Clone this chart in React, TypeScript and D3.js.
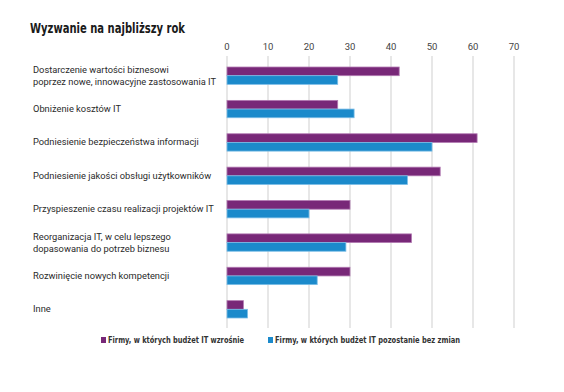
import React, { useEffect, useRef } from 'react';
import * as d3 from 'd3';

const categories = [
  ['Dostarczenie wartości biznesowi', 'poprzez nowe, innowacyjne zastosowania IT'],
  ['Obniżenie kosztów IT'],
  ['Podniesienie bezpieczeństwa informacji'],
  ['Podniesienie jakości obsługi użytkowników'],
  ['Przyspieszenie czasu realizacji projektów IT'],
  ['Reorganizacja IT, w celu lepszego', 'dopasowania do potrzeb biznesu'],
  ['Rozwinięcie nowych kompetencji'],
  ['Inne'],
];
const budgetUp = [42, 27, 61, 52, 30, 45, 30, 4];
const budgetSame = [27, 31, 50, 44, 20, 29, 22, 5];
const seriesNames = [
  'Firmy, w których budżet IT wzrośnie',
  'Firmy, w których budżet IT pozostanie bez zmian',
];
const ticks = [0, 10, 20, 30, 40, 50, 60, 70];

const colors = ['#782878', '#1b8acb'];
const strokes = ['#b27ab2', '#7bbde6'];
const condensed = '"DejaVu Sans Condensed", "DejaVu Sans", sans-serif';

const App = () => {
  const svgRef = useRef<SVGSVGElement>(null);

  useEffect(() => {
    const svg = d3.select(svgRef.current);
    svg.selectAll('*').remove();

    const x = d3.scaleLinear().domain([0, 70]).range([227, 514]);
    const y = d3.scaleBand<number>()
      .domain(d3.range(categories.length))
      .range([59, 326])
      .paddingInner(0.48)
      .paddingOuter(0.24);
    const sub = d3.scaleBand<number>().domain([0, 1]).range([0, y.bandwidth()]);

    svg.append('text')
      .attr('x', 30)
      .attr('y', 33)
      .attr('font-family', condensed)
      .attr('font-weight', 'bold')
      .attr('font-size', 14)
      .attr('textLength', 155)
      .attr('lengthAdjust', 'spacingAndGlyphs')
      .attr('fill', '#1a1a1a')
      .text('Wyzwanie na najbliższy rok');

    // grid + tick labels
    const grid = svg.append('g');
    grid.selectAll('line')
      .data(ticks)
      .join('line')
      .attr('x1', d => x(d))
      .attr('x2', d => x(d))
      .attr('y1', 56)
      .attr('y2', 328)
      .attr('stroke', '#cfcfcf')
      .attr('stroke-width', 1);
    grid.selectAll('text')
      .data(ticks)
      .join('text')
      .attr('x', d => x(d))
      .attr('y', 50)
      .attr('text-anchor', 'middle')
      .attr('font-family', 'Roboto, sans-serif')
      .attr('font-size', 9.5)
      .attr('fill', '#444')
      .text(d => d);

    const vals = [budgetUp, budgetSame];
    const bars = svg.append('g');
    vals.forEach((series, si) => {
      bars.selectAll(`rect.s${si}`)
        .data(series)
        .join('rect')
        .attr('class', `s${si}`)
        .attr('x', x(0))
        .attr('y', (d, i) => (y(i) as number) + (sub(si) as number))
        .attr('width', d => x(d) - x(0))
        .attr('height', sub.bandwidth())
        .attr('fill', colors[si])
        .attr('stroke', strokes[si])
        .attr('stroke-width', 0.8);
    });

    // category labels
    const labels = svg.append('g');
    categories.forEach((lines, i) => {
      const cy = (y(i) as number) + y.bandwidth() / 2;
      const t = labels.append('text')
        .attr('x', 33)
        .attr('font-family', 'Roboto, sans-serif')
        .attr('font-size', 9.3)
        .attr('fill', '#2a2a2a');
      lines.forEach((ln, j) => {
        t.append('tspan')
          .attr('x', 33)
          .attr('y', cy + 3 + (j - (lines.length - 1) / 2) * 12)
          .text(ln);
      });
    });

    // legend
    const legendX = [101, 268];
    const legendW = [136, 185];
    const lg = svg.append('g');
    seriesNames.forEach((name, i) => {
      lg.append('rect')
        .attr('x', legendX[i])
        .attr('y', 337)
        .attr('width', 5)
        .attr('height', 6)
        .attr('fill', colors[i]);
      lg.append('text')
        .attr('x', legendX[i] + 7)
        .attr('y', 343)
        .attr('font-family', condensed)
        .attr('font-weight', 'bold')
        .attr('font-size', 9)
        .attr('textLength', legendW[i])
        .attr('lengthAdjust', 'spacingAndGlyphs')
        .attr('fill', '#333')
        .text(name);
    });
  }, []);

  return (
    <div style={{ margin: -8 }}>
      <svg ref={svgRef} width={564} height={392} style={{ display: 'block', background: '#fff' }} />
    </div>
  );
};

export default App;
